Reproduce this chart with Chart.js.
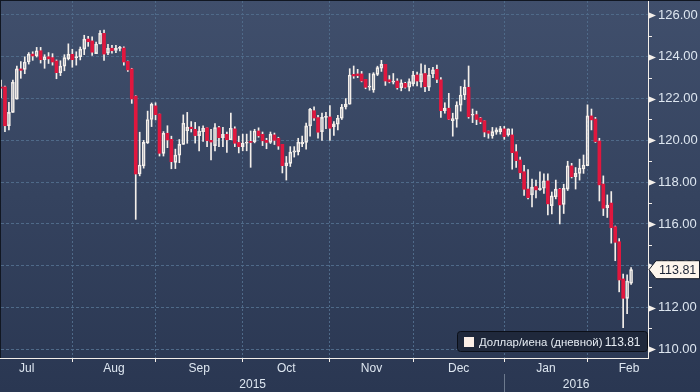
<!doctype html>
<html lang="ru">
<head>
<meta charset="UTF-8">
<title>USD/JPY</title>
<script src="https://cdn.jsdelivr.net/npm/chart.js"></script>
<style>
  html, body { margin: 0; padding: 0; background: #2c3a55; }
  #wrap { width: 700px; height: 392px; position: relative; }
</style>
</head>
<body>
<div id="wrap"><canvas id="fxChart"></canvas></div>
<script>
// trading days (weekdays) shown on the chart
const dates = [
  '2015-07-07','2015-07-08','2015-07-09','2015-07-10','2015-07-13','2015-07-14','2015-07-15','2015-07-16','2015-07-17','2015-07-20',
  '2015-07-21','2015-07-22','2015-07-23','2015-07-24','2015-07-27','2015-07-28','2015-07-29','2015-07-30','2015-07-31',
  '2015-08-03','2015-08-04','2015-08-05','2015-08-06','2015-08-07','2015-08-10','2015-08-11','2015-08-12','2015-08-13','2015-08-14',
  '2015-08-17','2015-08-18','2015-08-19','2015-08-20','2015-08-21','2015-08-24','2015-08-25','2015-08-26','2015-08-27','2015-08-28','2015-08-31',
  '2015-09-01','2015-09-02','2015-09-03','2015-09-04','2015-09-07','2015-09-08','2015-09-09','2015-09-10','2015-09-11','2015-09-14',
  '2015-09-15','2015-09-16','2015-09-17','2015-09-18','2015-09-21','2015-09-22','2015-09-23','2015-09-24','2015-09-25','2015-09-28','2015-09-29','2015-09-30',
  '2015-10-01','2015-10-02','2015-10-05','2015-10-06','2015-10-07','2015-10-08','2015-10-09','2015-10-12','2015-10-13','2015-10-14',
  '2015-10-15','2015-10-16','2015-10-19','2015-10-20','2015-10-21','2015-10-22','2015-10-23','2015-10-26','2015-10-27','2015-10-28','2015-10-29','2015-10-30',
  '2015-11-02','2015-11-03','2015-11-04','2015-11-05','2015-11-06','2015-11-09','2015-11-10','2015-11-11','2015-11-12','2015-11-13',
  '2015-11-16','2015-11-17','2015-11-18','2015-11-19','2015-11-20','2015-11-23','2015-11-24','2015-11-25','2015-11-26','2015-11-27','2015-11-30',
  '2015-12-01','2015-12-02','2015-12-03','2015-12-04','2015-12-07','2015-12-08','2015-12-09','2015-12-10','2015-12-11','2015-12-14',
  '2015-12-15','2015-12-16','2015-12-17','2015-12-18','2015-12-21','2015-12-22','2015-12-23','2015-12-24','2015-12-25','2015-12-28','2015-12-29','2015-12-30','2015-12-31',
  '2016-01-01','2016-01-04','2016-01-05','2016-01-06','2016-01-07','2016-01-08','2016-01-11','2016-01-12','2016-01-13','2016-01-14',
  '2016-01-15','2016-01-18','2016-01-19','2016-01-20','2016-01-21','2016-01-22','2016-01-25','2016-01-26','2016-01-27','2016-01-28','2016-01-29',
  '2016-02-01','2016-02-02','2016-02-03','2016-02-04','2016-02-05','2016-02-08','2016-02-09','2016-02-10','2016-02-11','2016-02-12','2016-02-15'
];

const opens = [
  122.55,122.56,120.70,121.34,121.97,123.42,123.40,123.75,124.13,124.04,124.29,123.86,124.00,123.96,123.80,123.24,123.55,123.90,124.12,
  123.96,124.00,124.37,124.85,124.76,124.15,124.61,125.12,124.17,124.41,124.30,124.40,124.42,123.78,123.42,122.12,118.39,118.78,119.88,121.00,121.65,
  121.26,119.38,120.34,120.05,118.95,119.29,119.81,120.46,120.63,120.53,120.23,120.42,120.60,120.00,119.75,120.61,120.13,120.29,120.03,120.55,119.90,119.70,
  119.86,119.95,119.94,120.45,120.29,120.00,119.90,120.26,120.10,119.81,118.79,118.90,119.44,119.46,119.83,119.90,120.69,121.42,121.09,120.42,121.10,121.12,
  120.66,120.77,121.06,121.60,121.73,123.16,123.18,123.18,122.92,122.54,122.41,123.16,123.45,123.64,122.90,122.78,122.84,122.52,122.73,122.54,122.70,
  123.13,122.80,123.20,122.54,123.18,123.40,122.90,121.42,121.54,120.94,121.01,121.69,122.17,122.54,121.20,121.23,121.07,120.94,120.45,120.21,120.39,120.42,120.55,
  120.26,120.26,119.46,119.06,118.50,117.67,117.39,117.79,117.64,117.71,118.06,116.88,117.30,117.67,116.94,117.67,118.78,118.26,118.42,118.63,118.79,
  121.17,121.02,119.97,117.91,116.78,117.00,115.87,115.15,113.37,112.44,113.16
];
const highs = [
  122.89,122.60,121.82,122.89,123.56,123.77,124.00,124.20,124.24,124.45,124.45,124.10,124.20,124.15,123.85,123.81,124.10,124.62,124.36,
  124.24,124.47,125.03,124.98,124.95,124.70,125.25,125.28,124.60,124.55,124.55,124.50,124.48,123.80,123.45,122.14,120.39,120.00,121.40,121.79,121.80,
  121.26,120.42,120.70,120.20,119.58,120.04,121.22,121.34,120.90,120.86,120.66,120.70,120.60,120.53,120.80,120.67,120.62,120.40,121.30,120.65,120.20,120.30,
  120.30,120.45,120.53,120.60,120.40,120.10,120.40,120.35,120.15,119.81,119.23,119.70,119.70,120.10,120.20,120.83,121.53,121.60,121.20,121.30,121.34,121.66,
  120.90,121.20,121.72,122.00,123.43,123.56,123.40,123.30,122.92,123.20,123.24,123.55,123.83,123.64,123.10,123.20,122.95,122.90,122.78,122.95,123.30,
  123.27,123.66,123.60,123.45,123.50,123.60,123.00,121.80,122.25,121.30,121.85,122.58,122.89,123.56,121.50,121.40,121.10,120.94,120.45,120.62,120.60,120.67,120.67,
  120.55,120.55,119.80,119.20,118.80,118.60,118.15,118.10,118.50,118.40,118.40,117.53,118.10,117.70,117.90,119.00,118.90,118.70,119.10,119.30,121.70,
  121.50,121.10,120.10,118.30,117.39,117.55,115.90,115.30,113.60,113.56,113.91
];
const lows = [
  122.04,120.42,120.50,121.34,121.97,122.97,123.19,123.65,123.83,123.99,123.70,123.45,123.68,123.60,122.95,123.10,123.33,123.85,123.50,
  123.60,123.85,124.10,124.50,124.07,124.15,124.61,123.83,124.10,124.17,124.20,124.28,123.60,123.30,121.77,116.22,118.30,118.67,119.85,120.66,120.98,
  119.25,119.25,119.65,118.64,118.65,118.93,119.81,119.86,120.40,119.87,119.50,119.95,119.70,119.06,119.50,119.70,119.70,119.42,120.03,119.70,119.40,119.50,
  119.50,118.71,119.88,120.15,119.75,119.60,119.85,119.80,119.57,118.44,118.10,118.75,119.20,119.30,119.70,119.58,120.20,120.95,120.10,120.00,120.56,120.00,
  120.24,120.50,121.00,121.50,121.73,122.97,123.00,122.80,122.47,122.40,122.30,123.10,123.30,122.63,122.75,122.70,122.45,122.37,122.50,122.37,122.60,
  122.60,122.55,122.33,122.38,123.00,122.76,121.10,121.30,121.00,120.20,120.63,121.40,121.95,121.06,120.85,120.75,120.80,120.17,120.10,120.10,120.29,120.30,120.05,
  120.20,118.62,118.70,118.17,117.37,117.20,116.82,117.25,117.60,117.46,116.43,116.48,117.20,116.00,116.50,117.60,118.20,117.67,118.10,118.42,118.79,
  120.50,119.90,117.10,116.40,116.31,115.08,114.24,112.75,111.04,111.70,113.10
];
const closes = [
  122.50,120.70,121.34,122.78,123.42,123.35,123.75,124.13,124.04,124.29,123.86,124.00,123.90,123.75,123.24,123.55,123.96,124.12,123.86,
  124.00,124.37,124.85,124.72,124.22,124.61,125.12,124.13,124.41,124.29,124.41,124.45,123.75,123.37,121.98,118.39,118.82,119.90,121.00,121.73,121.23,
  119.38,120.34,120.02,118.98,119.29,119.81,120.82,120.63,120.56,120.23,120.45,120.58,119.99,119.92,120.61,120.13,120.29,120.03,120.58,119.86,119.70,119.86,
  119.91,119.90,120.45,120.22,119.98,119.90,120.30,120.00,119.73,118.79,118.93,119.44,119.50,119.91,119.92,120.69,121.49,121.07,120.39,121.10,121.13,120.58,
  120.79,121.06,121.58,121.74,123.13,123.08,123.10,122.84,122.54,122.60,123.18,123.48,123.64,122.84,122.80,122.84,122.52,122.75,122.54,122.81,123.13,
  122.84,123.20,122.57,123.13,123.37,122.92,121.42,121.54,121.01,121.04,121.69,122.17,122.54,121.13,121.25,121.00,120.88,120.40,120.34,120.42,120.50,120.56,120.18,
  120.55,119.41,119.03,118.45,117.66,117.26,117.76,117.63,117.72,118.06,116.96,117.34,117.67,116.91,117.71,118.78,118.26,118.42,118.67,118.82,121.17,
  120.98,119.94,117.87,116.75,116.90,115.82,115.12,113.32,112.44,113.27,113.81
];

const monthNames = ['Jan','Feb','Mar','Apr','May','Jun','Jul','Aug','Sep','Oct','Nov','Dec'];
const yTickValues = [110,111,112,113,114,115,116,117,118,119,120,121,122,123,124,125,126];
const seriesName = 'Доллар/иена (дневной)';
const lastValue = closes[closes.length - 1];

const RED = '#e0173e';
const WHITE = '#f4efea';
const GRID = '#4f6a89';
const TEXT = '#dde6f0';
const FONT = '"Liberation Sans", Arial, sans-serif';

// x position = count of weekdays since 1 Jul 2015
const origin = Date.UTC(2015, 6, 1);
function weekdaysBefore(t) {
  let n = 0;
  for (let u = origin; u < t; u += 864e5) {
    const wd = new Date(u).getUTCDay();
    if (wd !== 0 && wd !== 6) n++;
  }
  return n;
}
function dateIndex(s) {
  const [y, m, d] = s.split('-').map(Number);
  return weekdaysBefore(Date.UTC(y, m - 1, d));
}
// index of the last weekday of month m (0-based)
function monthEnd(y, m) {
  return weekdaysBefore(Date.UTC(y, m + 1, 1)) - 1;
}

const xs = dates.map(dateIndex);
const up = i => closes[i] >= opens[i];

// months covered by the data
const months = [];
dates.forEach(s => {
  const [y, m] = s.split('-').map(Number);
  const last = months[months.length - 1];
  if (!last || last.y !== y || last.m !== m - 1) months.push({ y: y, m: m - 1 });
});
months.forEach(mo => {
  mo.start = monthEnd(mo.y, mo.m - 1);
  mo.end = monthEnd(mo.y, mo.m);
});
const gridLines = months.slice(0, -1).map(mo => mo.end);

const bodies = xs.map((x, i) => ({ x: x, y: [opens[i], closes[i]] }));
const upperWicks = xs.map((x, i) => ({ x: x, y: [Math.max(opens[i], closes[i]), highs[i]] }));
const lowerWicks = xs.map((x, i) => ({ x: x, y: [lows[i], Math.min(opens[i], closes[i])] }));

const decorPlugin = {
  id: 'decor',
  beforeDraw(chart) {
    const c = chart.ctx;
    const g = c.createLinearGradient(0, 0, 0, chart.height);
    g.addColorStop(0, '#404f6c');
    g.addColorStop(1, '#2a3752');
    c.save();
    c.fillStyle = g;
    c.fillRect(0, 0, chart.width, chart.height);
    c.fillStyle = '#111722';
    c.fillRect(0, 0, chart.width, 1);
    c.fillRect(0, 0, 1, chart.chartArea.bottom);
    c.restore();
  },
  afterDraw(chart) {
    const c = chart.ctx;
    const xS = chart.scales.x, yS = chart.scales.y;
    const area = chart.chartArea;
    c.save();

    // bottom axis line
    c.strokeStyle = WHITE;
    c.lineWidth = 1;
    c.beginPath();
    c.moveTo(0, Math.round(area.bottom) + 0.5);
    c.lineTo(area.right, Math.round(area.bottom) + 0.5);
    c.stroke();

    // right axis markers
    c.fillStyle = WHITE;
    yTickValues.forEach(v => {
      const py = Math.round(yS.getPixelForValue(v)) + 0.5;
      if (v % 2 === 0) {
        c.beginPath();
        c.moveTo(area.right + 1, py - 3);
        c.lineTo(area.right + 8, py);
        c.lineTo(area.right + 1, py + 3);
        c.closePath();
        c.fill();
      } else {
        c.beginPath();
        c.moveTo(area.right, py);
        c.lineTo(area.right + 4, py);
        c.stroke();
      }
    });

    // last value tag
    const ly = yS.getPixelForValue(lastValue);
    c.beginPath();
    c.moveTo(area.right + 1, ly);
    c.lineTo(area.right + 8, ly - 9);
    c.lineTo(chart.width - 0.5, ly - 9);
    c.lineTo(chart.width - 0.5, ly + 9);
    c.lineTo(area.right + 8, ly + 9);
    c.closePath();
    c.fillStyle = '#fdf5ec';
    c.fill();
    c.strokeStyle = '#141a26';
    c.stroke();
    c.fillStyle = '#1b2334';
    c.font = '12.5px ' + FONT;
    c.textBaseline = 'middle';
    c.textAlign = 'left';
    c.fillText(lastValue.toFixed(2), area.right + 11, ly + 0.5);

    // legend box
    const bx = 457.5, by = 331.5, bw = 190, bh = 20;
    c.beginPath();
    c.roundRect(bx, by, bw, bh, 3);
    c.fillStyle = '#1f283b';
    c.fill();
    c.strokeStyle = '#0b0f18';
    c.stroke();
    c.fillStyle = '#fbeee6';
    c.fillRect(464, 337, 10, 10);
    c.fillStyle = '#e6ecf3';
    c.font = '11.4px ' + FONT;
    c.fillText(seriesName, 479, by + bh / 2 + 1);
    c.textAlign = 'right';
    c.font = '12px ' + FONT;
    c.fillText(lastValue.toFixed(2), bx + bw - 7, by + bh / 2 + 1);

    // month and year labels
    c.fillStyle = TEXT;
    c.textAlign = 'center';
    c.font = '12px ' + FONT;
    months.forEach(mo => {
      const px = xS.getPixelForValue((mo.start + mo.end) / 2);
      c.fillText(monthNames[mo.m], px, area.bottom + 11);
    });
    const years = [];
    months.forEach(mo => {
      const last = years[years.length - 1];
      if (!last || last.y !== mo.y) years.push({ y: mo.y, start: mo.start, end: mo.end });
      else last.end = mo.end;
    });
    years.forEach((yr, k) => {
      const x0 = k === 0 ? area.left : xS.getPixelForValue(yr.start);
      const x1 = k === years.length - 1 ? area.right : xS.getPixelForValue(yr.end);
      c.fillStyle = TEXT;
      c.fillText(String(yr.y), (x0 + x1) / 2, area.bottom + 27);
      if (k > 0) {
        c.strokeStyle = '#6d7a8e';
        c.beginPath();
        c.moveTo(Math.round(x0) + 0.5, area.bottom + 16);
        c.lineTo(Math.round(x0) + 0.5, chart.height);
        c.stroke();
      }
    });
    c.restore();
  }
};

const ctx = document.getElementById('fxChart').getContext('2d');
const chart = new Chart(ctx, {
  type: 'bar',
  data: {
    datasets: [
      {
        label: seriesName,
        data: bodies,
        grouped: false,
        barThickness: 3,
        minBarLength: 1,
        borderSkipped: false,
        borderWidth: c => up(c.dataIndex) ? 1 : 0,
        borderColor: c => up(c.dataIndex) ? WHITE : RED,
        backgroundColor: c => up(c.dataIndex) ? 'rgba(0,0,0,0)' : RED
      },
      { label: 'hi', data: upperWicks, grouped: false, barThickness: 1, backgroundColor: WHITE },
      { label: 'lo', data: lowerWicks, grouped: false, barThickness: 1, backgroundColor: WHITE }
    ]
  },
  options: {
    responsive: true,
    maintainAspectRatio: false,
    animation: false,
    layout: { padding: { left: 1, top: 1, right: 0, bottom: 0 } },
    plugins: {
      legend: { display: false },
      tooltip: { enabled: false }
    },
    scales: {
      x: {
        type: 'linear',
        offset: false,
        min: 4,
        max: 167.27,
        afterBuildTicks: s => { s.ticks = gridLines.map(v => ({ value: v })); },
        afterFit: s => { s.height = 34; s.paddingLeft = 0; s.paddingRight = 0; },
        ticks: { display: false },
        grid: { offset: false, color: GRID, tickColor: WHITE, tickLength: 4, drawTicks: true },
        border: { display: true, color: WHITE, width: 1, dash: [2, 2] }
      },
      y: {
        type: 'linear',
        position: 'right',
        min: 109.584,
        max: 126.67,
        afterBuildTicks: s => { s.ticks = yTickValues.map(v => ({ value: v })); },
        afterFit: s => { s.width = 52; s.paddingTop = 0; s.paddingBottom = 0; },
        ticks: {
          autoSkip: false,
          padding: 10,
          color: TEXT,
          font: { family: FONT, size: 13 },
          callback: v => v % 2 === 0 ? v.toFixed(2) : ''
        },
        grid: {
          drawTicks: false,
          color: c => c.tick && c.tick.value % 2 === 0 ? GRID : 'rgba(0,0,0,0)'
        },
        border: { display: true, color: WHITE, width: 1, dash: [3, 2] }
      }
    }
  },
  plugins: [decorPlugin]
});
</script>
</body>
</html>
